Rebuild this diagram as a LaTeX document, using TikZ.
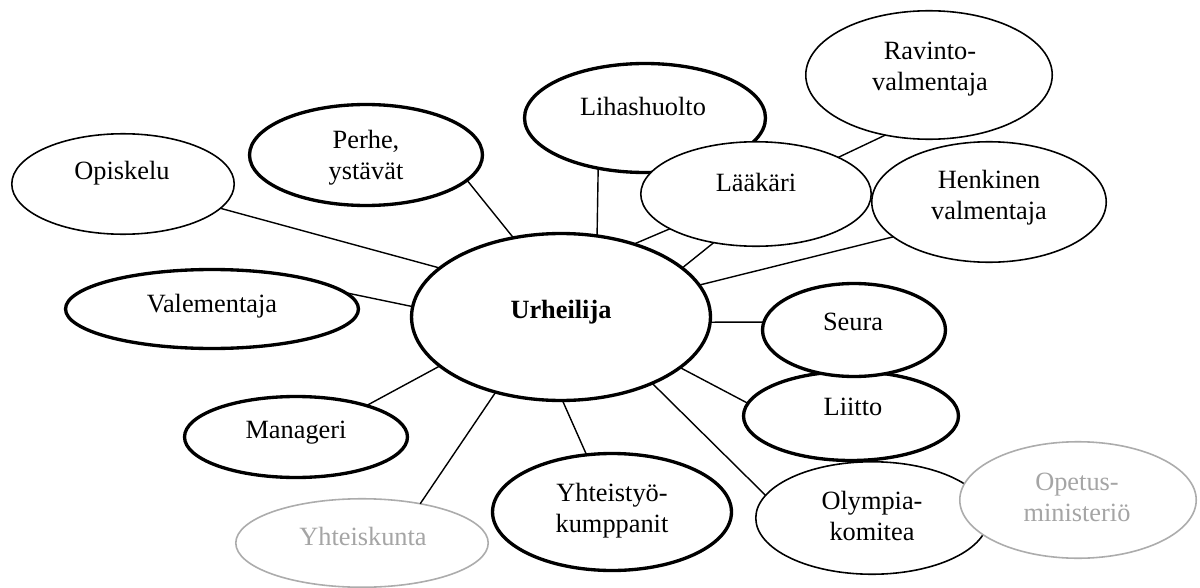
\documentclass[tikz,border=0pt]{standalone}
\usepackage{fontspec}
\setmainfont{Liberation Serif}
\usetikzlibrary{shapes.geometric}
\definecolor{lgray}{RGB}{172,172,172}
\definecolor{tgray}{RGB}{165,165,165}
\tikzset{
  bub/.style={ellipse, draw=black, fill=white, inner sep=0pt, outer sep=0pt},
  thickbub/.style={bub, line width=1.9pt},
  thinbub/.style={bub, line width=0.9pt},
  graybub/.style={bub, draw=lgray, line width=0.9pt},
  conn/.style={draw=black, line width=0.8pt},
  txt/.style={align=center, inner sep=0pt, font=\fontsize{15}{17.6}\selectfont},
  graytxt/.style={txt, text=tgray},
}
\begin{document}
\begin{tikzpicture}[x=0.02cm, y=-0.02cm]
\useasboundingbox (0,0) rectangle (1200,588);
\fill[white] (0,0) rectangle (1200,588);
% ellipses
\node[thinbub, minimum width=4.45cm, minimum height=2.01cm] (opi) at (123,184) {};
\node[thickbub, minimum width=4.66cm, minimum height=2.02cm] (per) at (366,155) {};
\node[thickbub, minimum width=4.82cm, minimum height=2.18cm] (lih) at (645,118) {};
\node[thinbub, minimum width=4.61cm, minimum height=2.09cm] (laa) at (756,194) {};
\node[thinbub, minimum width=4.93cm, minimum height=2.57cm] (rav) at (929,75) {};
\node[thinbub, minimum width=4.69cm, minimum height=2.41cm] (hen) at (989,202) {};
\node[thickbub, minimum width=5.86cm, minimum height=1.58cm] (val) at (212,309) {};
\node[thickbub, minimum width=5.98cm, minimum height=3.34cm] (urh) at (561,317) {};
\node[thinbub, minimum width=4.65cm, minimum height=2.25cm] (oly) at (872,518) {};
\node[graybub, minimum width=4.73cm, minimum height=2.33cm] (ope) at (1078,500) {};
\node[thickbub, minimum width=4.30cm, minimum height=1.78cm] (lii) at (851,416) {};
\node[thickbub, minimum width=3.66cm, minimum height=1.86cm] (seu) at (854,330) {};
\node[thickbub, minimum width=4.46cm, minimum height=1.62cm] (man) at (296,437) {};
\node[graybub, minimum width=5.05cm, minimum height=1.77cm] (yks) at (362,543) {};
\node[thickbub, minimum width=4.78cm, minimum height=2.34cm] (yht) at (612,512) {};
% connectors
\draw[conn] (opi.-14.3) -- (urh.158);
\draw[conn] (per.-14.9) -- (urh.121.4);
\draw[conn] (lih.-133.5) -- (urh.66);
\draw[conn] (laa.-158.5) -- (urh.45.8);
\draw[conn] (laa.-131.3) -- (urh.22.5);
\draw[conn] (rav.-126.6) -- (laa.24.3);
\draw[conn] (hen.-160.2) -- (urh.13.6);
\draw[conn] (val.7.2) -- (urh.176.6);
\draw[conn] (seu.175.7) -- (urh.-2.3);
\draw[conn] (lii.173.4) -- (urh.-23.9);
\draw[conn] (oly.168.7) -- (urh.-36.9);
\draw[conn] (yht.114.2) -- (urh.-89.3);
\draw[conn] (yks.34.8) -- (urh.-131.9);
\draw[conn] (man.24.7) -- (urh.-158);
% texts
\node[txt] (opiT) at (122,173) {Opiskelu};
\node[txt] (perT) at (366,158) {Perhe,\\ystävät};
\node[txt] (lihT) at (643,106) {Lihashuolto};
\node[txt] (laaT) at (756,182) {Lääkäri};
\node[txt] (ravT) at (930,69) {Ravinto-\\valmentaja};
\node[txt] (henT) at (989,198) {Henkinen\\valmentaja};
\node[txt] (valT) at (212,306) {Valementaja};
\node[txt, font=\fontsize{15}{17.6}\selectfont\bfseries] (urhT) at (561,312) {Urheilija};
\node[txt] (seuT) at (853,322) {Seura};
\node[txt] (liiT) at (853,407) {Liitto};
\node[txt] (manT) at (296,433) {Manageri};
\node[graytxt] (yksT) at (363,536) {Yhteiskunta};
\node[txt] (yhtT) at (612,511) {Yhteistyö-\\kumppanit};
\node[txt] (olyT) at (872,516) {Olympia-\\komitea};
\node[graytxt] (opeT) at (1077,497) {Opetus-\\ministeriö};
\end{tikzpicture}
\end{document}
